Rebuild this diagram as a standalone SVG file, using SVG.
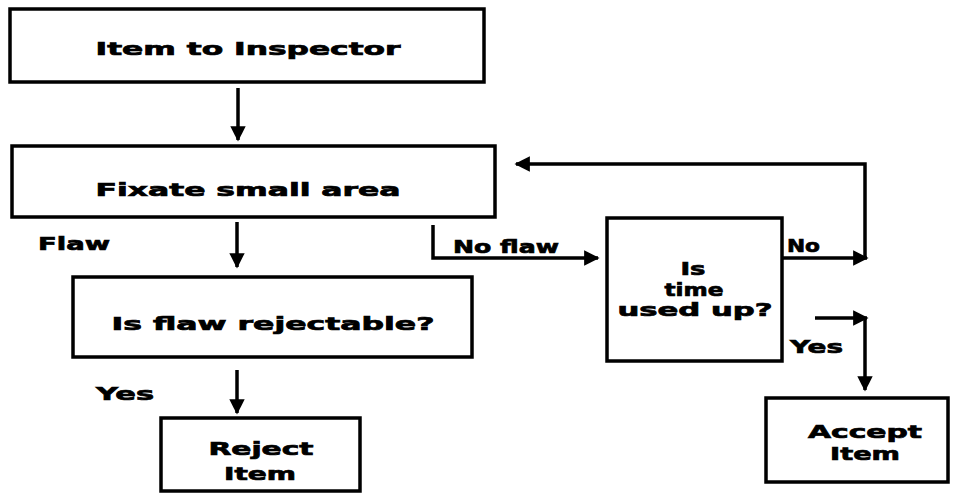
<svg xmlns="http://www.w3.org/2000/svg" width="955" height="498" viewBox="0 0 955 498">
<defs>
<style>
.box{fill:#fff;stroke:#000;stroke-width:3.5}
.t{font-family:"DejaVu Sans",sans-serif;font-weight:bold;font-size:18px;fill:#000;stroke:#000;stroke-width:0.7;text-anchor:middle}
.l{font-family:"DejaVu Sans",sans-serif;font-weight:bold;font-size:18px;fill:#000;stroke:#000;stroke-width:0.7}
.c{fill:none;stroke:#000;stroke-width:3.5}
</style>
<marker id="ah" viewBox="0 0 10 10" refX="9" refY="5" markerWidth="4.4" markerHeight="4.4" orient="auto" markerUnits="strokeWidth">
<path d="M0,0 L10,5 L0,10 z" fill="#000"/>
</marker>
</defs>
<rect width="955" height="498" fill="#fff"/>
<g id="connectors">
<path class="c" d="M238,88 V140" marker-end="url(#ah)"/>
<path class="c" d="M237,222 V267" marker-end="url(#ah)"/>
<path class="c" d="M237,370 V413" marker-end="url(#ah)"/>
<path class="c" d="M433,225 V258 H598" marker-end="url(#ah)"/>
<path class="c" d="M782,258 H867" marker-end="url(#ah)"/>
<path class="c" d="M865,258 V164 H516" marker-end="url(#ah)"/>
<path class="c" d="M815,318 H867" marker-end="url(#ah)"/>
<path class="c" d="M865,318 V390" marker-end="url(#ah)"/>
<text class="l" x="38" y="250" textLength="72" lengthAdjust="spacingAndGlyphs">Flaw</text>
<text class="l" x="453" y="253" textLength="106" lengthAdjust="spacingAndGlyphs">No flaw</text>
<text class="l" x="787" y="252" textLength="33" lengthAdjust="spacingAndGlyphs">No</text>
<text class="l" x="96" y="400" textLength="58" lengthAdjust="spacingAndGlyphs">Yes</text>
<text class="l" x="790" y="353" textLength="53" lengthAdjust="spacingAndGlyphs">Yes</text>
</g>
<g id="n1">
<rect class="box" x="10" y="9" width="474" height="73"/>
<text class="t" x="248" y="55" textLength="305" lengthAdjust="spacingAndGlyphs">Item to Inspector</text>
</g>
<g id="n2">
<rect class="box" x="12" y="146" width="483" height="71"/>
<text class="t" x="248" y="196" textLength="305" lengthAdjust="spacingAndGlyphs">Fixate small area</text>
</g>
<g id="n3">
<rect class="box" x="73" y="277" width="399" height="80"/>
<text class="t" x="273" y="330" textLength="323" lengthAdjust="spacingAndGlyphs">Is flaw rejectable?</text>
</g>
<g id="n4">
<rect class="box" x="161" y="418" width="199" height="73"/>
<text class="t" x="261" y="455" textLength="105" lengthAdjust="spacingAndGlyphs">Reject</text>
<text class="t" x="260" y="480" textLength="72" lengthAdjust="spacingAndGlyphs">Item</text>
</g>
<g id="n5">
<rect class="box" x="607" y="218" width="175" height="143"/>
<text class="t" x="693" y="275" textLength="25" lengthAdjust="spacingAndGlyphs">Is</text>
<text class="t" x="694" y="296" textLength="59" lengthAdjust="spacingAndGlyphs">time</text>
<text class="t" x="695" y="316" textLength="155" lengthAdjust="spacingAndGlyphs">used up?</text>
</g>
<g id="n6">
<rect class="box" x="766" y="398" width="182" height="84"/>
<text class="t" x="865" y="438" textLength="114" lengthAdjust="spacingAndGlyphs">Accept</text>
<text class="t" x="865" y="460" textLength="70" lengthAdjust="spacingAndGlyphs">Item</text>
</g>
</svg>
